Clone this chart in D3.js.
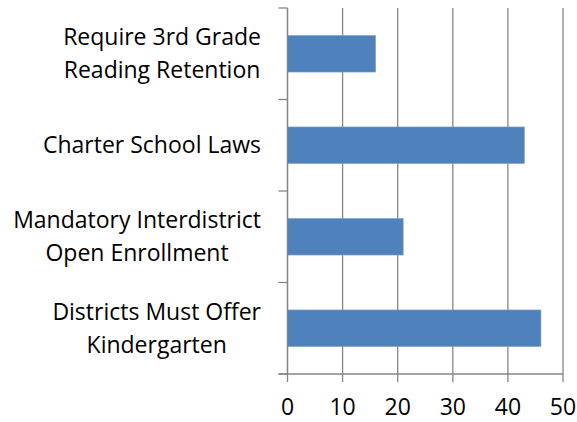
<!DOCTYPE html>
<meta charset="utf-8">
<html>
<head>
<style>
body { margin: 0; background: #fff; }
text { font-family: "Open Sans", sans-serif; fill: #000; }
</style>
</head>
<body>
<svg width="577" height="422"></svg>
<script src="https://cdn.jsdelivr.net/npm/d3@7"></script>
<script>

var categories = ["Require 3rd Grade Reading Retention", "Charter School Laws",
                  "Mandatory Interdistrict Open Enrollment", "Districts Must Offer Kindergarten"];
var values = [16, 43, 21, 46];
var xTicks = [0, 10, 20, 30, 40, 50];

var svg = d3.select("svg");
var plotL = 287.5, plotR = 563, plotT = 8, plotB = 374;
var fontSize = 23;
var gridColor = "#868686";

var x = d3.scaleLinear().domain([0, 50]).range([plotL, plotR]);
var y = d3.scaleBand().domain(categories).range([plotT, plotB])
    .paddingInner(0.6).paddingOuter(0.3);

// vertical gridlines
svg.selectAll(".grid")
    .data(xTicks)
  .enter().append("line")
    .attr("x1", function(d){ return x(d); })
    .attr("x2", function(d){ return x(d); })
    .attr("y1", plotT).attr("y2", plotB + 8)
    .attr("stroke", gridColor).attr("stroke-width", 1.3);

// bars
svg.selectAll(".bar")
    .data(categories)
  .enter().append("rect")
    .attr("x", x(0))
    .attr("y", function(d){ return y(d); })
    .attr("width", function(d, i){ return x(values[i]) - x(0); })
    .attr("height", y.bandwidth())
    .attr("fill", "#4F81BD")
    .attr("stroke", "#7fa3d0").attr("stroke-width", 0.6);

// category axis line and tick marks
var gap = (y.step() - y.bandwidth()) / 2;
var bounds = categories.map(function(d){ return y(d) - gap; }).concat([plotB]);
svg.append("line")
    .attr("x1", x(0)).attr("x2", x(0)).attr("y1", plotT).attr("y2", plotB)
    .attr("stroke", gridColor).attr("stroke-width", 1.3);
svg.selectAll(".ytick")
    .data(bounds)
  .enter().append("line")
    .attr("x1", x(0) - 9).attr("x2", x(0))
    .attr("y1", function(d){ return d; }).attr("y2", function(d){ return d; })
    .attr("stroke", gridColor).attr("stroke-width", 1.3);
svg.append("line")
    .attr("x1", x(0) - 9).attr("x2", plotR).attr("y1", plotB).attr("y2", plotB)
    .attr("stroke", gridColor).attr("stroke-width", 1.3);

// x tick labels
svg.selectAll(".xlab")
    .data(xTicks)
  .enter().append("text")
    .attr("x", function(d){ return x(d); })
    .attr("y", 415)
    .attr("text-anchor", "middle")
    .style("font-size", fontSize + "px")
    .text(function(d){ return d; });

// category labels, wrapped, block right-aligned, lines centred
var maxW = 262, lineH = 33, labelRight = 261;
var measure = svg.append("text").style("font-size", fontSize + "px");
function width(s){ measure.text(s); return measure.node().getComputedTextLength(); }

categories.forEach(function(c){
  var words = c.split(" "), lines = [], cur = "";
  words.forEach(function(w){
    var t = cur ? cur + " " + w : w;
    if (cur && width(t) > maxW) { lines.push(cur); cur = w; } else cur = t;
  });
  lines.push(cur);
  var blockW = d3.max(lines, width);
  var cy = y(c) + y.bandwidth() / 2;
  var cap = fontSize * 0.714;
  lines.forEach(function(l, i){
    svg.append("text")
      .attr("x", labelRight - blockW / 2)
      .attr("y", cy + cap / 2 + (i - (lines.length - 1) / 2) * lineH)
      .attr("text-anchor", "middle")
      .style("font-size", fontSize + "px")
      .text(l);
  });
});
measure.remove();

</script>
</body>
</html>
